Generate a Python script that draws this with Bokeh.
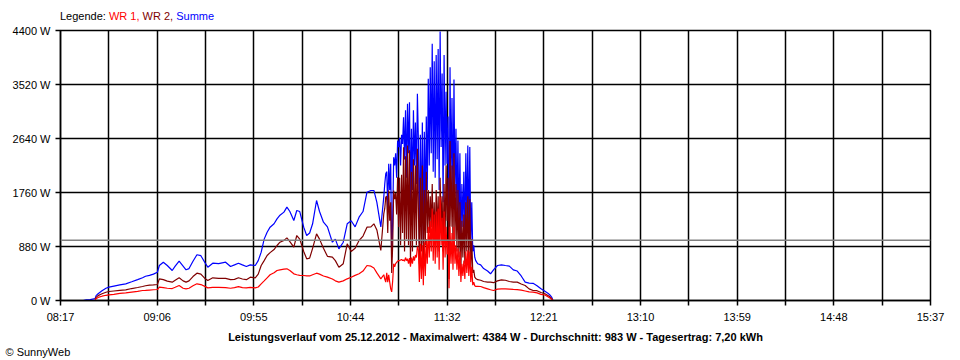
import numpy as np
from bokeh.plotting import figure
from bokeh.models import FixedTicker, CustomJSTickFormatter, Span, Range1d, Title, Div
from bokeh.layouts import column
from bokeh.embed import file_html
from bokeh.resources import INLINE

nan = float("nan")

# time axis (minutes since midnight), tick labels
x_start, x_end = 497, 937
tick_labels = ["08:17", "09:06", "09:55", "10:44", "11:32", "12:21", "13:10", "13:59", "14:48", "15:37"]
y_ticks = [0, 880, 1760, 2640, 3520, 4400]
avg_w = 983

legend_parts = ["Legende:", "WR 1,", "WR 2,", "Summe"]
legend_colors = ["black", "#FF0000", "#800000", "#0000FF"]
footer = "Leistungsverlauf vom 25.12.2012 - Maximalwert: 4384 W - Durchschnitt: 983 W - Tagesertrag: 7,20 kWh"
copyright_txt = "\u00a9 SunnyWeb"

t = [508.5, 510, 512, 514.5, 515, 516, 518, 520, 521.5, 524, 527, 530, 533, 536, 538.5, 540, 542, 544, 546,
     547, 549, 551, 553.5, 555, 557, 559, 560.5, 562, 564, 566, 568, 570, 571.5, 574, 577, 580.5, 583, 585,
     587, 589, 591, 593, 595.5, 597, 598.5, 600, 601.5, 603, 605, 606.5, 608, 610, 611.5, 613, 615, 616.5,
     618, 620, 621.5, 623, 624.5, 626.5, 628, 630, 632, 634.5, 636, 637.8, 640, 642, 644, 646, 648, 650,
     652, 654, 655.5, 657, 659,
     660.5, 661.0, 661.5, 662.0, 662.5, 663.0, 663.5, 664.0, 664.5, 665.0, 665.5, 666.0, 666.5, 667.0,
     667.5, 668.0, 668.5, 669.0, 669.5, 670.0, 670.5, 671.0, 671.5, 672.0, 672.5, 673.0, 673.5, 674.0,
     674.5, 675.0, 675.5, 676.0, 676.5, 677.0, 677.5, 678.0, 678.5, 679.0, 679.5, 680.0, 680.5, 681.0,
     681.5, 682.0, 682.5, 683.0, 683.5, 684.0, 684.5, 685.0, 685.5, 686.0, 686.5, 687.0, 687.5, 688.0,
     688.5, 689.0, 689.5, 690.0, 690.5, 691.0, 691.5, 692.0, 692.5, 693.0, 693.5, 694.0, 694.5, 695.0,
     695.5, 696.0, 696.5, 697.0, 697.5, 698.0, 698.5, 699.0, 699.5, 700.0, 700.5, 701.0, 701.5, 702.0,
     702.5, 703.0, 703.5, 704.0, 704.5, 705.0, 705.5, 706.0, 706.5, 707.0,
     708, 709.5, 711, 713, 714.5, 716, 718, 720, 722, 724, 726, 728, 730, 732, 734, 736, 738, 740, 742,
     743.5, 744.5, 745.5, 746]

summe = [0, 10, 15, 30, 80, 110, 160, 200, 217, 235, 255, 272, 305, 340, 370, 395, 410, 430, 461,
         570, 624, 570, 489, 560, 640, 560, 500, 520, 640, 745, 730, 620, 543, 608, 600, 624, 554, 580,
         608, 580, 554, 580, 570, 650, 788, 1000, 1113, 1195, 1250, 1331, 1390, 1440, 1521, 1450, 1304, 1467,
         1450, 1195, 1059, 1100, 1250, 1630, 1450, 1276, 1200, 950, 1000, 842, 950, 1250, 1300, 1200, 1358, 1450,
         1765, 1793, 1793, 1600, 1200,
         1684, 1900, 2064, 2100, 1500, 2228, 1800, 2228, 706, 1300, 2335, 2200, 2400, 2000,
         2607, 2500, 2650, 2200, 2700, 2550, 2987, 2300, 3100, 2000, 3205, 2400, 3232, 1500,
         2800, 1800, 3100, 2200, 2900, 1900, 3368, 2607, 933, 2700, 1200, 2900, 933, 2750,
         1400, 3000, 1800, 3613, 2200, 3800, 2400, 4183, 2100, 3900, 2000, 4000, 2300, 4100,
         1800, 4384, 2500, 3700, 1600, 4000, 2200, 3400, 2228, 3000, 600, 3800, 1900, 3300,
         1500, 3600, 1700, 2800, 1400, 2607, 1200, 2400, 900, 1900, 1200, 2100, 1000, 2400,
         1300, 2526, 1100, 2500, 900, 1600, 800, 900, 706, 650,
         598, 580, 520, 480, 435, 500, 570, 581, 570, 560, 500, 480, 400, 300, 283, 280, 240, 190, 150,
         120, 90, 50, 0]

wr2 = [nan, nan, nan, 20, 50, 80, 110, 135, 147, 155, 165, 174, 195, 212, 228, 240, 250, 255, 261,
       353, 340, 315, 299, 330, 370, 320, 299, 320, 390, 445, 430, 360, 326, 370, 362, 360, 340, 345,
       370, 350, 340, 380, 370, 430, 570, 650, 733, 780, 830, 896, 950, 980, 1021, 960, 869, 1059,
       1000, 800, 679, 690, 850, 1086, 1000, 850, 720, 706, 650, 543, 600, 924, 800, 850, 978, 1050,
       1195, 1200, 1250, 1150, 815,
       1413, 1500, 1684, 1700, 1100, 1793, 1300, 1600, 450, 900, 1793, 1650, 1750, 1400,
       2010, 1200, 2000, 900, 2050, 1100, 2498, 800, 2350, 1000, 2526, 900, 2450, 600,
       2100, 800, 2300, 1000, 2200, 900, 2471, 1500, 600, 2000, 800, 2200, 500, 1800,
       900, 2100, 1100, 1800, 1100, 1700, 1200, 1900, 1000, 1600, 900, 1800, 1100, 1700,
       800, 2000, 1200, 1700, 800, 1900, 1000, 2200, 1300, 2000, 350, 2600, 1200, 2200,
       900, 2400, 1000, 1900, 800, 1800, 700, 1600, 500, 1300, 700, 1400, 600, 1600,
       800, 1700, 650, 1650, 500, 1000, 450, 500, 380, 360,
       340, 330, 310, 300, 299, 290, 320, 337, 330, 310, 300, 300, 270, 244, 190, 163, 160, 130, 110,
       80, 60, 30, 0]

wr1 = [nan, nan, nan, 10, 30, 50, 70, 85, 92, 100, 115, 125, 138, 150, 163, 165, 170, 175, 179,
       217, 210, 200, 195, 215, 244, 200, 190, 200, 240, 272, 260, 230, 206, 215, 215, 210, 200, 210,
       225, 210, 205, 215, 206, 220, 272, 320, 370, 420, 451, 489, 500, 510, 516, 490, 435, 420,
       410, 407, 400, 400, 420, 445, 430, 400, 380, 350, 320, 299, 320, 353, 380, 410, 435, 480,
       570, 560, 530, 450, 353,
       420, 350, 300, 450, 300, 420, 300, 190, 140, 320, 598, 550, 600, 620,
       640, 652, 650, 660, 670, 650, 660, 640, 700, 650, 679, 600, 690, 550,
       700, 600, 720, 650, 740, 700, 880, 820, 300, 924, 350, 900, 250, 950,
       400, 1000, 600, 1200, 700, 1300, 800, 1500, 650, 1400, 600, 1450, 700, 1500,
       500, 1684, 900, 1350, 500, 1450, 700, 1200, 750, 1000, 200, 1200, 600, 1100,
       500, 1200, 600, 900, 500, 850, 400, 800, 300, 600, 400, 650, 350, 800,
       450, 820, 400, 800, 300, 550, 250, 300, 240, 230,
       230, 228, 210, 190, 175, 163, 185, 190, 188, 185, 180, 178, 170, 155, 140, 136, 125, 100, 90,
       60, 40, 20, 0]

FONT = "Liberation Sans"

p = figure(width=960, height=336, x_range=Range1d(x_start, x_end), y_range=Range1d(0, 4400),
           output_backend="svg", toolbar_location=None,
           min_border_left=60, min_border_right=30, min_border_top=6, min_border_bottom=60)
p.background_fill_color = "white"
p.border_fill_color = "white"
p.outline_line_color = "black"
p.outline_line_width = 1.5

n_grid = 2 * (len(tick_labels) - 1)
step = (x_end - x_start) / n_grid
x_ticks = [x_start + i * step for i in range(n_grid + 1)]

p.xaxis.ticker = FixedTicker(ticks=x_ticks)
p.xaxis.formatter = CustomJSTickFormatter(
    args=dict(labels=tick_labels, t0=x_start, step=step),
    code="const i = Math.round((tick - t0) / step); return (i % 2 == 0) ? labels[i / 2] : '';")
p.yaxis.ticker = FixedTicker(ticks=y_ticks)
p.yaxis.formatter = CustomJSTickFormatter(code="return tick + ' W';")

for ax in (p.xaxis[0], p.yaxis[0]):
    ax.major_tick_out = 5
    ax.major_tick_in = 0
    ax.minor_tick_out = 0
    ax.minor_tick_in = 0
    ax.major_tick_line_color = "black"
    ax.major_tick_line_width = 1.5
    ax.axis_line_color = "black"
    ax.axis_line_width = 1.5
    ax.major_label_text_font = FONT
    ax.major_label_text_font_size = "11px"
    ax.major_label_text_color = "black"
    ax.major_label_standoff = 5

p.xgrid.ticker = FixedTicker(ticks=x_ticks)
p.ygrid.ticker = FixedTicker(ticks=y_ticks)
for g in (p.xgrid[0], p.ygrid[0]):
    g.grid_line_color = "black"
    g.grid_line_width = 1.5
    g.grid_line_alpha = 1.0

p.add_layout(Span(location=avg_w, dimension="width", line_color="#808080", line_width=1.5))

tt = np.array(t, dtype=float)
p.line(tt, np.array(summe, dtype=float), line_color="#0000FF", line_width=1.2)
p.line(tt, np.array(wr2, dtype=float), line_color="#800000", line_width=1.2)
p.line(tt, np.array(wr1, dtype=float), line_color="#FF0000", line_width=1.2)

p.add_layout(Title(text=footer, align="center", text_font=FONT, text_font_size="11px",
                   text_font_style="bold", text_color="black", standoff=6), "below")
p.add_layout(Title(text=copyright_txt, align="left", offset=-55, text_font=FONT, text_font_size="11px",
                   text_font_style="normal", text_color="black", standoff=-4), "below")

spans = " ".join('<span style="color:%s">%s</span>' % (c, s) for s, c in zip(legend_parts, legend_colors))
legend_html = ('<div style="padding:10px 0 0 60px; font-family:%s; font-size:11px; '
               'line-height:12px; color:black; white-space:nowrap;">%s</div>' % (FONT, spans))
legend_div = Div(text=legend_html, width=960, height=24, margin=0)

layout = column(legend_div, p, spacing=0)
open("out.html", "w").write(file_html(layout, INLINE))
